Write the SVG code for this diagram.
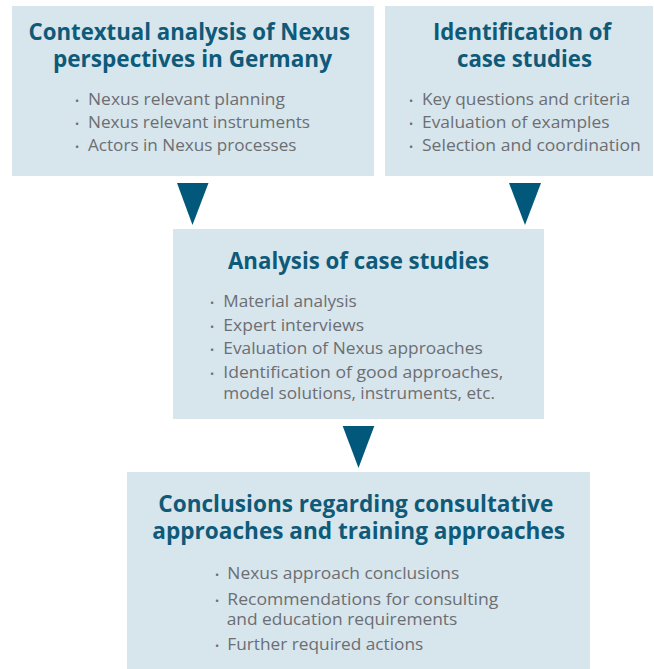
<svg xmlns="http://www.w3.org/2000/svg" width="654" height="669" viewBox="0 0 654 669">
<style>
.box{fill:#d7e5ed}
.t{font-family:"Open Sans","Noto Sans",sans-serif;font-weight:700;font-size:24px;fill:#0e5a78}
.b{font-family:"Open Sans","Noto Sans",sans-serif;font-size:17px;fill:#6c6e72}
.d{font-family:"Open Sans","Noto Sans",sans-serif;font-size:11px;fill:#6c6e72;text-anchor:middle}
.arr{fill:#02587a}
</style>
<rect width="654" height="669" fill="#ffffff"/>
<g id="node-contextual">
<rect class="box" x="12" y="6" width="362" height="170"/>
<text class="t" x="28.5" y="40" textLength="321.5" lengthAdjust="spacingAndGlyphs">Contextual analysis of Nexus</text>
<text class="t" x="53" y="67" textLength="279" lengthAdjust="spacingAndGlyphs">perspectives in Germany</text>
<text class="d" x="77" y="105">•</text>
<text class="b" x="88" y="105" textLength="197" lengthAdjust="spacingAndGlyphs">Nexus relevant planning</text>
<text class="d" x="77" y="128">•</text>
<text class="b" x="88" y="128" textLength="222" lengthAdjust="spacingAndGlyphs">Nexus relevant instruments</text>
<text class="d" x="77" y="151">•</text>
<text class="b" x="88" y="151" textLength="208.5" lengthAdjust="spacingAndGlyphs">Actors in Nexus processes</text>
</g>
<g id="node-identification">
<rect class="box" x="385" y="6" width="268" height="170"/>
<text class="t" x="433" y="40" textLength="178" lengthAdjust="spacingAndGlyphs">Identification of</text>
<text class="t" x="457" y="67" textLength="135" lengthAdjust="spacingAndGlyphs">case studies</text>
<text class="d" x="411" y="105">•</text>
<text class="b" x="422" y="105" textLength="208" lengthAdjust="spacingAndGlyphs">Key questions and criteria</text>
<text class="d" x="411" y="128">•</text>
<text class="b" x="422" y="128" textLength="187.5" lengthAdjust="spacingAndGlyphs">Evaluation of examples</text>
<text class="d" x="411" y="151">•</text>
<text class="b" x="422" y="151" textLength="218.7" lengthAdjust="spacingAndGlyphs">Selection and coordination</text>
</g>
<g id="node-analysis">
<rect class="box" x="173" y="229" width="371" height="190"/>
<text class="t" x="228" y="269" textLength="261" lengthAdjust="spacingAndGlyphs">Analysis of case studies</text>
<text class="d" x="212" y="307">•</text>
<text class="b" x="223.3" y="307" textLength="133.4" lengthAdjust="spacingAndGlyphs">Material analysis</text>
<text class="d" x="212" y="331">•</text>
<text class="b" x="223.3" y="331" textLength="140.7" lengthAdjust="spacingAndGlyphs">Expert interviews</text>
<text class="d" x="212" y="354">•</text>
<text class="b" x="223.3" y="354" textLength="259.4" lengthAdjust="spacingAndGlyphs">Evaluation of Nexus approaches</text>
<text class="d" x="212" y="378">•</text>
<text class="b" x="223.3" y="378" textLength="280" lengthAdjust="spacingAndGlyphs">Identification of good approaches,</text>
<text class="b" x="223.3" y="399" textLength="271.7" lengthAdjust="spacingAndGlyphs">model solutions, instruments, etc.</text>
</g>
<g id="node-conclusions">
<rect class="box" x="127" y="472" width="463" height="197"/>
<text class="t" x="158.3" y="511.5" textLength="395" lengthAdjust="spacingAndGlyphs">Conclusions regarding consultative</text>
<text class="t" x="152.3" y="539" textLength="412.7" lengthAdjust="spacingAndGlyphs">approaches and training approaches</text>
<text class="d" x="217" y="579">•</text>
<text class="b" x="227.3" y="579" textLength="232" lengthAdjust="spacingAndGlyphs">Nexus approach conclusions</text>
<text class="d" x="217" y="605">•</text>
<text class="b" x="227.3" y="605" textLength="271" lengthAdjust="spacingAndGlyphs">Recommendations for consulting</text>
<text class="b" x="226.7" y="625" textLength="230.6" lengthAdjust="spacingAndGlyphs">and education requirements</text>
<text class="d" x="217" y="650">•</text>
<text class="b" x="227.3" y="650" textLength="196" lengthAdjust="spacingAndGlyphs">Further required actions</text>
</g>
<g id="connectors">
<polygon class="arr" points="177,183 208.5,183 192.5,225"/>
<polygon class="arr" points="509,183 541,183 525,225"/>
<polygon class="arr" points="342.7,426 374.3,426 358.5,468"/>
</g>
</svg>
